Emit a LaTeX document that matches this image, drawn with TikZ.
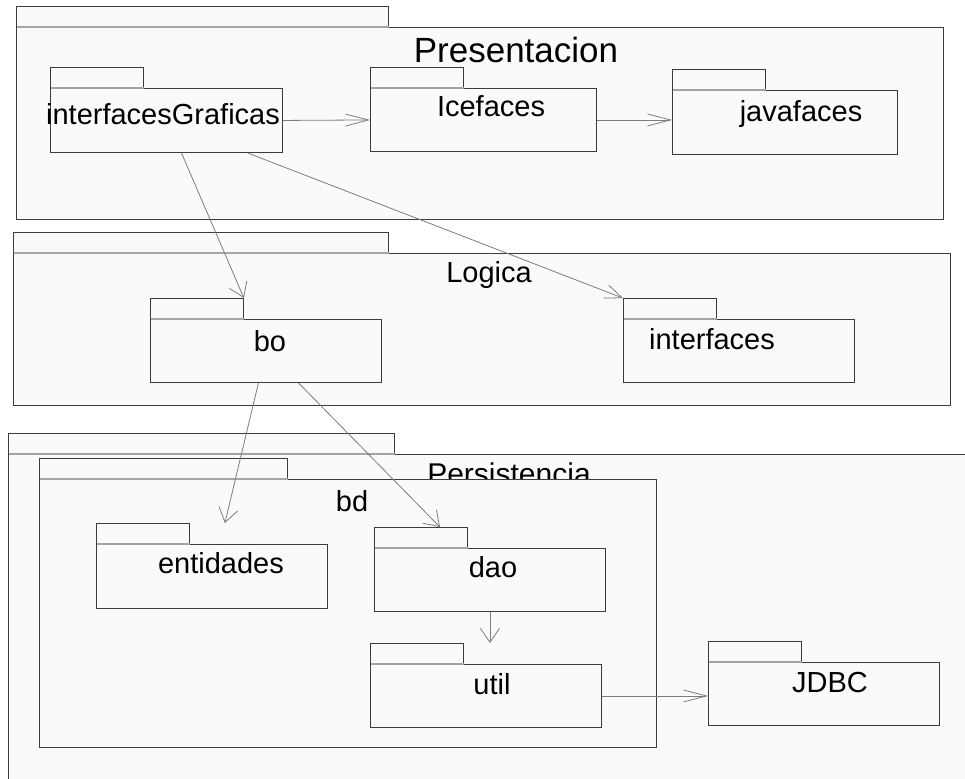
\documentclass[tikz,border=0pt]{standalone}
\usepackage{fontspec}
\setmainfont{Liberation Sans}
\usetikzlibrary{arrows.meta, positioning, calc}
\definecolor{pkgline}{RGB}{60,60,60}
\definecolor{pkgfill}{RGB}{250,250,250}
\definecolor{sepgray}{RGB}{165,165,165}
\definecolor{depgray}{RGB}{125,125,125}

\begin{document}
\begin{tikzpicture}[x=1pt, y=-1pt,
  pkgbody/.style={rectangle, draw=pkgline, fill=pkgfill, line width=0.9pt, inner sep=0pt, anchor=north west},
  pkgtab/.style={rectangle, draw=pkgline, fill=pkgfill, line width=0.9pt, inner sep=0pt, anchor=south west, minimum width=93pt, minimum height=20pt},
  pkgname/.style={anchor=base, inner sep=0pt, font=\fontsize{29}{34}\selectfont},
  sepln/.style={draw=sepgray, line width=1.1pt},
  dep/.style={draw=depgray, line width=0.8pt, -{Straight Barb[length=14pt, width=19pt]}},
  depm/.style={draw=depgray, line width=0.8pt, -{Straight Barb[length=17pt, width=14pt]}},
  deph/.style={draw=depgray, line width=0.8pt, -{Straight Barb[length=23pt, width=12pt]}}]
  \useasboundingbox (0,0) rectangle (965,778);
  \clip (0,0) rectangle (965,778);
  \fill[white] (0,0) rectangle (965,778);
  % Presentacion
  \node[pkgbody, minimum width=927pt, minimum height=192pt] (presentacion) at (16,27) {};
  \node[pkgtab, minimum width=372pt] (presentacion-tab) at (presentacion.north west) {};
  \draw[sepln] ([xshift=0.5pt]presentacion-tab.south west) -- (presentacion-tab.south east);
  \node[pkgname, font=\fontsize{35}{42}\selectfont] (presentacion-name) at (516,63) {Presentacion};
  \node[pkgbody, minimum width=232pt, minimum height=64pt] (igraf) at (50,88) {};
  \node[pkgtab] (igraf-tab) at (igraf.north west) {};
  \draw[sepln] ([xshift=0.5pt]igraf-tab.south west) -- (igraf-tab.south east);
  \node[pkgname] (igraf-name) at (163,125) {interfacesGraficas};
  \node[pkgbody, minimum width=226pt, minimum height=63pt] (icefaces) at (370,88) {};
  \node[pkgtab] (icefaces-tab) at (icefaces.north west) {};
  \draw[sepln] ([xshift=0.5pt]icefaces-tab.south west) -- (icefaces-tab.south east);
  \node[pkgname] (icefaces-name) at (491,117) {Icefaces};
  \node[pkgbody, minimum width=225pt, minimum height=64pt] (javafaces) at (672,90) {};
  \node[pkgtab] (javafaces-tab) at (javafaces.north west) {};
  \draw[sepln] ([xshift=0.5pt]javafaces-tab.south west) -- (javafaces-tab.south east);
  \node[pkgname] (javafaces-name) at (801,122) {javafaces};
  % Logica
  \node[pkgbody, minimum width=937pt, minimum height=152pt] (logica) at (13,253) {};
  \node[pkgtab, minimum width=375pt] (logica-tab) at (logica.north west) {};
  \draw[sepln] ([xshift=0.5pt]logica-tab.south west) -- (logica-tab.south east);
  \node[pkgname] (logica-name) at (489,282) {Logica};
  \node[pkgbody, minimum width=231pt, minimum height=63pt] (bo) at (150,319) {};
  \node[pkgtab] (bo-tab) at (bo.north west) {};
  \draw[sepln] ([xshift=0.5pt]bo-tab.south west) -- (bo-tab.south east);
  \node[pkgname] (bo-name) at (270,351) {bo};
  \node[pkgbody, minimum width=231pt, minimum height=63pt] (interfaces) at (623,319) {};
  \node[pkgtab] (interfaces-tab) at (interfaces.north west) {};
  \draw[sepln] ([xshift=0.5pt]interfaces-tab.south west) -- (interfaces-tab.south east);
  \node[pkgname] (interfaces-name) at (712,349) {interfaces};
  % Persistencia
  \node[pkgbody, minimum width=1000pt, minimum height=400pt] (persistencia) at (8,454) {};
  \node[pkgtab, minimum width=386pt] (persistencia-tab) at (persistencia.north west) {};
  \draw[sepln] ([xshift=0.5pt]persistencia-tab.south west) -- (persistencia-tab.south east);
  \node[pkgname, font=\fontsize{30}{36}\selectfont] (persistencia-name) at (509,484) {Persistencia};
  \node[pkgbody, minimum width=617pt, minimum height=268pt] (bd) at (39,479) {};
  \node[pkgtab, minimum width=248pt] (bd-tab) at (bd.north west) {};
  \draw[sepln] ([xshift=0.5pt]bd-tab.south west) -- (bd-tab.south east);
  \node[pkgname] (bd-name) at (352,511) {bd};
  \node[pkgbody, minimum width=231pt, minimum height=64pt] (entidades) at (96,544) {};
  \node[pkgtab] (entidades-tab) at (entidades.north west) {};
  \draw[sepln] ([xshift=0.5pt]entidades-tab.south west) -- (entidades-tab.south east);
  \node[pkgname] (entidades-name) at (221,573) {entidades};
  \node[pkgbody, minimum width=231pt, minimum height=63pt] (dao) at (374,548) {};
  \node[pkgtab] (dao-tab) at (dao.north west) {};
  \draw[sepln] ([xshift=0.5pt]dao-tab.south west) -- (dao-tab.south east);
  \node[pkgname] (dao-name) at (493,577) {dao};
  \node[pkgbody, minimum width=231pt, minimum height=63pt] (util) at (370,664) {};
  \node[pkgtab] (util-tab) at (util.north west) {};
  \draw[sepln] ([xshift=0.5pt]util-tab.south west) -- (util-tab.south east);
  \node[pkgname] (util-name) at (492,694) {util};
  \node[pkgbody, minimum width=231pt, minimum height=63pt] (jdbc) at (708,662) {};
  \node[pkgtab] (jdbc-tab) at (jdbc.north west) {};
  \draw[sepln] ([xshift=0.5pt]jdbc-tab.south west) -- (jdbc-tab.south east);
  \node[pkgname] (jdbc-name) at (830,692) {JDBC};
  % Dependencias
  \draw[deph] (igraf.east) -- (icefaces.west);
  \draw[deph] (icefaces.east) -- (icefaces.east -| javafaces.west);
  \draw[dep] ([xshift=15pt]igraf.south) -- (bo-tab.north east);
  \draw[depm] ([xshift=81pt]igraf.south) -- (interfaces-tab.north west);
  \draw[dep] ([xshift=-7.5pt]bo.south) -- ([xshift=35pt]entidades-tab.north east);
  \draw[dep] ([xshift=32.5pt]bo.south) -- ([xshift=66pt]dao-tab.north west);
  \draw[dep] (dao.south) -- (dao.south |- util-tab.north);
  \draw[deph] (util.east) -- (util.east -| jdbc.west);
\end{tikzpicture}
\end{document}
